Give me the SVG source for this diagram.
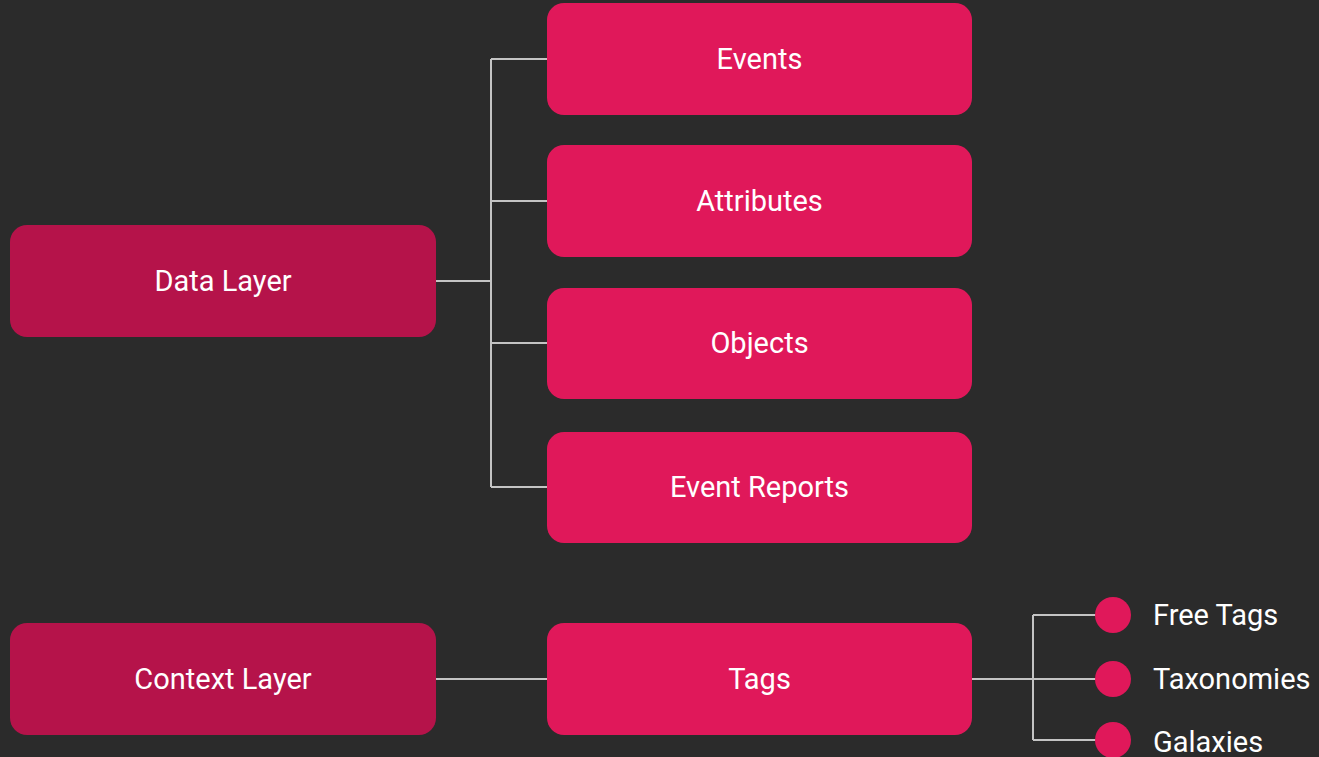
<svg xmlns="http://www.w3.org/2000/svg" width="1319" height="757" viewBox="0 0 1319 757">
<style>
.bg{fill:#2b2b2b}
.layer{fill:#b5134a}
.item{fill:#e0185a}
.dot{fill:#e0185a}
.t{font-family:Roboto,"Liberation Sans",sans-serif;font-size:29px;fill:#ffffff;text-anchor:middle}
.l{font-family:Roboto,"Liberation Sans",sans-serif;font-size:29px;fill:#ffffff}
.c{fill:none;stroke:#c4c4c4;stroke-width:2}
</style>
<rect class="bg" x="0" y="0" width="1319" height="757"/>
<g id="connectors">
<path class="c" d="M436 281H491M491 59V487M491 59H547M491 201H547M491 343H547M491 487H547"/>
<path class="c" d="M436 679H547"/>
<path class="c" d="M972 679H1033M1033 615V740M1033 615H1096M1033 679H1096M1033 740H1096"/>
</g>
<g id="data-layer"><rect class="layer" x="10" y="225" width="426" height="112" rx="17"/><text class="t" x="223" y="291">Data Layer</text></g>
<g id="events"><rect class="item" x="547" y="3" width="425" height="112" rx="17"/><text class="t" x="759.5" y="69">Events</text></g>
<g id="attributes"><rect class="item" x="547" y="145" width="425" height="112" rx="17"/><text class="t" x="759.5" y="211">Attributes</text></g>
<g id="objects"><rect class="item" x="547" y="288" width="425" height="111" rx="17"/><text class="t" x="759.5" y="353">Objects</text></g>
<g id="event-reports"><rect class="item" x="547" y="432" width="425" height="111" rx="17"/><text class="t" x="759.5" y="497">Event Reports</text></g>
<g id="context-layer"><rect class="layer" x="10" y="623" width="426" height="112" rx="17"/><text class="t" x="223" y="689">Context Layer</text></g>
<g id="tags"><rect class="item" x="547" y="623" width="425" height="112" rx="17"/><text class="t" x="759.5" y="689">Tags</text></g>
<g id="free-tags"><circle class="dot" cx="1113" cy="615" r="18"/><text class="l" x="1153" y="625">Free Tags</text></g>
<g id="taxonomies"><circle class="dot" cx="1113" cy="679" r="18"/><text class="l" x="1153" y="689">Taxonomies</text></g>
<g id="galaxies"><circle class="dot" cx="1113" cy="740" r="18"/><text class="l" x="1153" y="752">Galaxies</text></g>
</svg>
